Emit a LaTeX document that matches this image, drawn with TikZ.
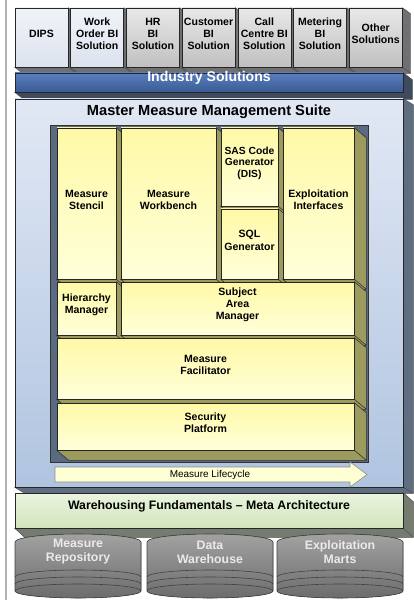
\documentclass[tikz,border=0pt]{standalone}
\usepackage{fontspec}
\setmainfont{Liberation Sans}
\usetikzlibrary{positioning, fit, calc, backgrounds}

\definecolor{solAtop}{HTML}{F0F3F8}
\definecolor{solAbot}{HTML}{DCE2EE}
\definecolor{solBtop}{HTML}{E8E8E8}
\definecolor{solBbot}{HTML}{C0C0C0}
\definecolor{solside}{HTML}{6E7074}
\definecolor{indtop}{HTML}{5A7DBE}
\definecolor{indbot}{HTML}{3A5C94}
\definecolor{indside}{HTML}{3F4A5E}
\definecolor{suitetop}{HTML}{E1E8F4}
\definecolor{suitebot}{HTML}{B0C4E0}
\definecolor{suiteside}{HTML}{5E6D80}
\definecolor{trayfill}{HTML}{5A6A80}
\definecolor{yeltop}{HTML}{FFF9A6}
\definecolor{yelbot}{HTML}{FFFFDA}
\definecolor{olive}{HTML}{9C9A5C}
\definecolor{lifefill}{HTML}{FFFFD6}
\definecolor{whtop}{HTML}{EAF4DE}
\definecolor{whbot}{HTML}{D2E5BC}
\definecolor{whside}{HTML}{757B6E}
\definecolor{cyltop}{HTML}{A2A2A2}
\definecolor{cylbot}{HTML}{6C6C6C}
\definecolor{cyltext}{HTML}{EAEAEA}

\pgfdeclarelayer{inner}
\pgfdeclarelayer{top}
\pgfsetlayers{background,main,inner,top}

\newcommand{\extrude}[3]{%
  \filldraw[#3] (#1.north east) -- ++(#2) |- ($(#1.south west)+(#2)$) -- (#1.south west) -- (#1.south east) -- cycle;
  \draw[#3, fill=none] (#1.south east) -- ++(#2);}

\newcommand{\dbcyl}[3]{%
  \begin{scope}[shift={(#2,0)}]
  \filldraw[cyl] (0,542) -- (0,591) arc[start angle=180, end angle=0, x radius=63, y radius=7]
    -- (126,542) arc[start angle=0, end angle=-180, x radius=63, y radius=8] -- cycle;
  \foreach \r in {577,584,591}
    {\draw[cylring] (0,\r) arc[start angle=180, end angle=360, x radius=63, y radius=7];}
  \node[cyllabel] (#1) at (63,552) {#3};
  \end{scope}}

\begin{document}
\begin{tikzpicture}[
    x=0.03cm, y=-0.03cm,
    blk/.style={rectangle, inner sep=0pt, align=center, draw=black!85, line width=0.5pt},
    solA/.style={blk, top color=solAtop, bottom color=solAbot, font=\fontsize{9}{10.6}\selectfont\bfseries},
    solB/.style={blk, top color=solBtop, bottom color=solBbot, font=\fontsize{9}{10.6}\selectfont\bfseries},
    yel/.style={blk, top color=yeltop, bottom color=yelbot, font=\fontsize{9}{10.4}\selectfont\bfseries},
    greyside/.style={fill=solside, draw=black!70, line width=0.4pt},
    blueside/.style={fill=indside, draw=black!70, line width=0.4pt},
    suiteside/.style={fill=suiteside, draw=black!70, line width=0.4pt},
    greenside/.style={fill=whside, draw=black!70, line width=0.4pt},
    oliveside/.style={fill=olive, draw=black!80, line width=0.5pt},
    cyl/.style={top color=cyltop, bottom color=cylbot, draw=black!75, line width=0.5pt},
    cylring/.style={draw=black!75, line width=0.5pt},
    cyllabel/.style={align=center, text=cyltext, font=\fontsize{10.5}{12}\selectfont\bfseries},
    title/.style={font=\fontsize{12.5}{14}\selectfont\bfseries}
    ]
\useasboundingbox (0,0) rectangle (413,600);
\fill[black!30] (5,0) rectangle (7,600);

\foreach \st/\lab [count=\i from 0] in {solA/DIPS, solA/{Work\\Order BI\\Solution}, solB/{HR\\BI\\Solution},
    solB/{Customer\\BI\\Solution}, solB/{Call\\Centre BI\\Solution}, solB/{Metering\\BI\\Solution}, solB/{Other\\Solutions}}
  {\node[\st, fit={({15+55.7*\i},8) ({68+55.7*\i},67)}] (sol\i) {\lab};}
\node[blk, top color=indtop, bottom color=indbot, text=white, font=\fontsize{12}{14}\selectfont\bfseries,
  fit={(15,73) (403,92)}] (industry) {Industry Solutions};
\node[blk, top color=suitetop, bottom color=suitebot, fit={(15,99) (403,487)}] (suite) {};
\node[title] (suitetitle) at (209,112) {Master Measure Management Suite};
\node[blk, fill=trayfill, draw=black!80, fit={(50,125) (368,462)}] (tray) {};
\node[blk, top color=whtop, bottom color=whbot, font=\fontsize{10.5}{12}\selectfont\bfseries,
  fit={(15,493) (403,528)}] (warehouse) {Warehousing Fundamentals -- Meta Architecture};

\begin{pgfonlayer}{background}
\foreach \i in {0,...,6} {\extrude{sol\i}{8,6}{greyside}}
\extrude{industry}{9,7}{blueside}
\extrude{suite}{10,6}{suiteside}
\extrude{warehouse}{10,9}{greenside}
\end{pgfonlayer}

\begin{pgfonlayer}{top}
\node[yel, fit={(57,128) (116,279)}] (stencil) {Measure\\Stencil};
\node[yel, fit={(121,128) (216,279)}] (workbench) {Measure\\Workbench};
\node[yel, font=\fontsize{8.8}{9.6}\selectfont\bfseries, fit={(221,128) (278,206)}] (sas) {SAS Code\\Generator\\(DIS)};
\node[yel, fit={(221,209) (278,279)}] (sql) {SQL\\Generator};
\node[yel, fit={(283,128) (354,279)}] (exploit) {Exploitation\\Interfaces};
\node[yel, fit={(57,282) (116,335)}] (hierarchy) {Hierarchy\\Manager};
\node[yel, fit={(121,282) (354,335)}] (subject) {Subject\\Area\\Manager};
\node[yel, fit={(57,338) (354,399)}] (facilitator) {Measure\\Facilitator};
\node[yel, fit={(57,403) (354,450)}] (security) {Security\\Platform};
\end{pgfonlayer}

\begin{pgfonlayer}{inner}
\foreach \n in {stencil, workbench, sas, sql, exploit, hierarchy, subject, facilitator, security}
  {\extrude{\n}{12,10}{oliveside}}
\end{pgfonlayer}

\filldraw[fill=lifefill, draw=black!45, line width=0.5pt] (55,467) -- (350,467) -- (350,462) -- (367,474.5)
  -- (350,487) -- (350,482) -- (55,482) -- cycle;
\node[font=\fontsize{8.5}{10}\selectfont] (lifecycle) at (210,474.5) {Measure Lifecycle};

\dbcyl{repository}{15}{Measure\\Repository}
\dbcyl{dwh}{147}{Data\\Warehouse}
\dbcyl{marts}{277}{Exploitation\\Marts}
\end{tikzpicture}
\end{document}
